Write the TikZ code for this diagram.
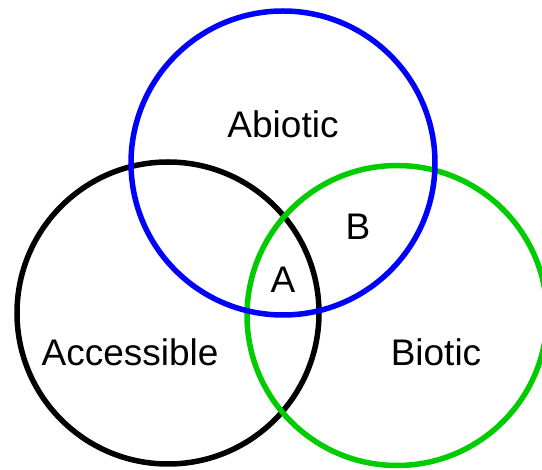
\documentclass[tikz,border=0pt]{standalone}
\usepackage{fontspec}
\setmainfont{Liberation Sans}
\definecolor{ringblue}{RGB}{0,0,255}
\definecolor{ringgreen}{RGB}{0,204,0}
\begin{document}
\begin{tikzpicture}[x=1pt,y=-1pt,
  ring/.style={line width=5.5pt},
  setlabel/.style={anchor=base,font=\fontsize{37}{42}\selectfont,inner sep=0pt}]
\useasboundingbox (0,0) rectangle (542,470);
% three overlapping sets
\draw[ring,black] (168,313) circle (151);
\draw[ring,ringgreen] (397,315.5) circle (150);
\draw[ring,ringblue] (283,163) circle (152);
% labels
\node[setlabel] (abiotic) at (283,138) {Abiotic};
\node[setlabel] (accessible) at (130,366) {Accessible};
\node[setlabel] (biotic) at (436,366) {Biotic};
\node[setlabel] (a) at (283,293) {A};
\node[setlabel] (b) at (358,240) {B};
\end{tikzpicture}
\end{document}
